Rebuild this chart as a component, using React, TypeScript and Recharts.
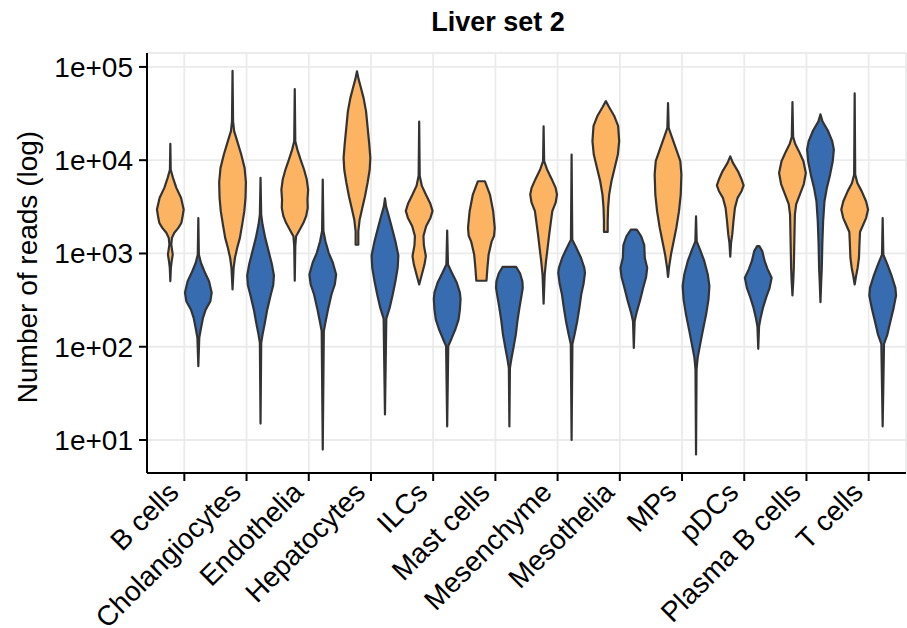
import { ScatterChart, Scatter, XAxis, YAxis, CartesianGrid } from 'recharts';

const CELL_TYPES = [
  'B cells', 'Cholangiocytes', 'Endothelia', 'Hepatocytes', 'ILCs', 'Mast cells',
  'Mesenchyme', 'Mesothelia', 'MPs', 'pDCs', 'Plasma B cells', 'T cells',
];

const Y_TICKS = [10, 100, 1000, 10000, 100000];
const Y_TICK_LABELS = ['1e+01', '1e+02', '1e+03', '1e+04', '1e+05'];

// violin profiles: [reads, relative width] from the top of each violin down
const ORANGE_VIOLINS: [number, number][][] = [
  [[15000, 0], [7900, 0.03], [6460, 0.2], [5050, 0.45], [3950, 0.8], [2960, 1], [2410, 0.9], [2120, 0.82], [1880, 0.6], [1670, 0.3], [1470, 0.12], [1250, 0.07], [973, 0.18], [826, 0.1], [700, 0.04], [505, 0]],
  [[91000, 0], [26100, 0.04], [20500, 0.12], [16000, 0.35], [11500, 0.65], [8270, 0.9], [5800, 1], [3940, 0.97], [2840, 0.88], [2040, 0.72], [1470, 0.55], [1150, 0.35], [900, 0.18], [700, 0.08], [411, 0]],
  [[58000, 0], [16000, 0.04], [12900, 0.2], [10000, 0.45], [7900, 0.7], [6200, 0.9], [4840, 1], [3790, 0.95], [3080, 0.97], [2510, 0.85], [2130, 0.65], [1810, 0.38], [1530, 0.1], [1200, 0.04], [510, 0]],
  [[89700, 0], [74000, 0.12], [59500, 0.3], [46000, 0.5], [33400, 0.68], [22200, 0.8], [14800, 0.92], [10600, 1], [7900, 0.95], [5800, 0.8], [4100, 0.6], [3000, 0.38], [2300, 0.2], [1730, 0.1], [1240, 0.1]],
  [[26000, 0], [6800, 0.04], [5300, 0.2], [4280, 0.5], [3460, 0.82], [2860, 1], [2420, 0.85], [1960, 0.52], [1540, 0.32], [1230, 0.35], [935, 0.5], [765, 0.4], [594, 0.2], [465, 0]],
  [[5950, 0.26], [5050, 0.45], [4280, 0.64], [2840, 0.88], [1880, 1], [1550, 0.95], [1350, 0.77], [973, 0.54], [700, 0.45], [510, 0.38]],
  [[23000, 0], [9750, 0.04], [8000, 0.25], [6300, 0.6], [5050, 0.9], [4280, 1], [3500, 0.9], [2840, 0.65], [2220, 0.55], [1600, 0.42], [1150, 0.3], [826, 0.18], [594, 0.08], [290, 0]],
  [[43000, 0], [37000, 0.25], [30000, 0.62], [23300, 0.92], [16000, 1], [11500, 0.9], [8270, 0.66], [5950, 0.42], [4280, 0.25], [3080, 0.17], [2220, 0.14], [1700, 0.14]],
  [[41000, 0], [22200, 0.05], [18300, 0.25], [13500, 0.58], [9750, 0.92], [7000, 1], [4280, 0.95], [2840, 0.82], [1880, 0.62], [1350, 0.42], [973, 0.22], [700, 0.07], [560, 0]],
  [[11000, 0], [9350, 0.2], [7600, 0.58], [6200, 0.85], [5380, 1], [4680, 0.85], [3950, 0.55], [3080, 0.35], [2220, 0.24], [1600, 0.15], [1300, 0.06], [925, 0]],
  [[42000, 0], [17800, 0.05], [15000, 0.2], [12500, 0.48], [9750, 0.82], [7300, 1], [5550, 0.85], [4280, 0.55], [3380, 0.28], [2610, 0.18], [1350, 0.14], [700, 0.1], [504, 0.06], [355, 0]],
  [[52000, 0], [7000, 0.04], [5700, 0.2], [4660, 0.52], [3630, 0.85], [2960, 1], [2410, 0.86], [2010, 0.62], [1700, 0.4], [1280, 0.36], [900, 0.32], [700, 0.22], [570, 0.1], [465, 0]],
];

const BLUE_VIOLINS: [number, number][][] = [
  [[2400, 0], [973, 0.04], [790, 0.2], [645, 0.45], [504, 0.8], [380, 1], [308, 0.9], [250, 0.55], [204, 0.35], [159, 0.2], [125, 0.07], [62, 0]],
  [[6460, 0], [2610, 0.05], [2040, 0.15], [1470, 0.35], [1060, 0.6], [765, 0.85], [580, 1], [460, 0.95], [355, 0.75], [250, 0.5], [180, 0.32], [135, 0.15], [110, 0.05], [15, 0]],
  [[6200, 0], [1740, 0.05], [1350, 0.2], [1010, 0.45], [800, 0.75], [594, 1], [465, 0.9], [363, 0.65], [261, 0.42], [188, 0.22], [147, 0.08], [7.9, 0]],
  [[3900, 0], [3200, 0.08], [2540, 0.28], [1880, 0.52], [1350, 0.78], [950, 1], [700, 0.95], [504, 0.78], [363, 0.58], [261, 0.35], [200, 0.1], [18.8, 0]],
  [[1760, 0], [760, 0.06], [620, 0.35], [485, 0.72], [380, 0.95], [325, 1], [250, 0.95], [195, 0.85], [155, 0.62], [122, 0.32], [102, 0.08], [14, 0]],
  [[720, 0.5], [610, 0.8], [504, 0.97], [428, 1], [350, 0.9], [261, 0.75], [188, 0.6], [135, 0.48], [97, 0.3], [73, 0.14], [59, 0.04], [14, 0]],
  [[11500, 0], [1400, 0.05], [1150, 0.35], [900, 0.7], [700, 0.95], [620, 1], [480, 0.9], [363, 0.72], [261, 0.58], [188, 0.42], [135, 0.22], [107, 0.06], [10, 0]],
  [[1800, 0.22], [1530, 0.55], [1230, 0.78], [900, 0.82], [700, 1], [560, 0.92], [428, 0.7], [308, 0.45], [230, 0.2], [188, 0.06], [97, 0]],
  [[2500, 0], [1350, 0.05], [1100, 0.3], [826, 0.62], [594, 0.88], [450, 1], [320, 0.93], [221, 0.75], [147, 0.5], [101, 0.28], [76, 0.12], [57, 0.04], [7, 0]],
  [[1200, 0.08], [1060, 0.3], [826, 0.48], [680, 0.7], [550, 1], [428, 0.85], [340, 0.6], [261, 0.35], [205, 0.18], [165, 0.06], [95, 0]],
  [[31000, 0], [26100, 0.15], [20800, 0.55], [16000, 0.88], [13000, 1], [9750, 0.92], [7000, 0.72], [5050, 0.48], [3630, 0.3], [2220, 0.2], [1270, 0.14], [700, 0.1], [470, 0.05], [300, 0]],
  [[2400, 0], [973, 0.05], [765, 0.35], [570, 0.68], [428, 0.95], [355, 1], [261, 0.82], [188, 0.58], [135, 0.35], [107, 0.1], [14, 0]],
];

const ORANGE = '#fdb462';
const BLUE = '#386cb0';
const OUTLINE = '#333333';
const DODGE = 0.225;
const HALF_WIDTH = 0.215;
const FONT = '"Liberation Sans", Arial, Helvetica, sans-serif';
const AXIS_FONT_SIZE = 28;

// closed outline: down the left side, back up the right side
function outline(profile: [number, number][], center: number) {
  const left = profile.map(([reads, w]) => ({ x: center - w * HALF_WIDTH, y: reads }));
  const right = [...profile].reverse().map(([reads, w]) => ({ x: center + w * HALF_WIDTH, y: reads }));
  return [...left, ...right];
}

const violins = CELL_TYPES.flatMap((name, i) => [
  { key: `${name}-orange`, fill: ORANGE, data: outline(ORANGE_VIOLINS[i], i - DODGE) },
  { key: `${name}-blue`, fill: BLUE, data: outline(BLUE_VIOLINS[i], i + DODGE) },
]);

function CellTick({ x, y, payload }: any) {
  const tx = x - 4;
  const ty = y + 11;
  return (
    <text x={tx} y={ty} transform={`rotate(-45, ${tx}, ${ty})`} textAnchor="end" fontSize={AXIS_FONT_SIZE} fill="#000">
      {CELL_TYPES[Math.round(payload.value)]}
    </text>
  );
}

function YTitle({ viewBox }: any) {
  const tx = viewBox.x + 37;
  const ty = viewBox.y + viewBox.height / 2 + 4;
  return (
    <text x={tx} y={ty} transform={`rotate(-90, ${tx}, ${ty})`} textAnchor="middle" fontSize={AXIS_FONT_SIZE} fill="#000">
      Number of reads (log)
    </text>
  );
}

function yLabel(v: number) {
  const i = Y_TICKS.findIndex((t) => Math.abs(Math.log10(t) - Math.log10(v)) < 0.01);
  return i >= 0 ? Y_TICK_LABELS[i] : '';
}

export default function App() {
  return (
    <div style={{ position: 'absolute', left: 0, top: 0, width: 907, height: 628, background: '#fff', fontFamily: FONT, overflow: 'hidden' }}>
      <div style={{ position: 'absolute', left: 398, top: 8.8, width: 200, textAlign: 'center', fontSize: 27, lineHeight: '27px', fontWeight: 'bold', color: '#000' }}>
        Liver set 2
      </div>
      <ScatterChart width={907} height={628} margin={{ top: 53, right: 1, bottom: 0, left: 0 }}>
        <CartesianGrid stroke="#ebebeb" strokeWidth={1.8} />
        <XAxis
          type="number"
          dataKey="x"
          domain={[-0.6, 11.6]}
          allowDataOverflow
          ticks={CELL_TYPES.map((_, i) => i)}
          interval={0}
          height={155}
          tickSize={8}
          tickMargin={2}
          axisLine={{ stroke: '#000', strokeWidth: 2 }}
          tickLine={{ stroke: '#000', strokeWidth: 2 }}
          tick={<CellTick />}
        />
        <YAxis
          type="number"
          dataKey="y"
          scale="log"
          domain={[4.43, 141000]}
          allowDataOverflow
          ticks={Y_TICKS}
          interval={0}
          width={147}
          tickSize={8}
          tickMargin={6}
          tickFormatter={yLabel}
          axisLine={{ stroke: '#000', strokeWidth: 2 }}
          tickLine={{ stroke: '#000', strokeWidth: 2 }}
          tick={{ fontSize: AXIS_FONT_SIZE, fill: '#000' }}
          label={{ content: <YTitle /> }}
        />
        {violins.map((v) => (
          <Scatter
            key={v.key}
            data={v.data}
            fill={v.fill}
            line={{ fill: v.fill, stroke: OUTLINE, strokeWidth: 2.2, strokeLinejoin: 'round' }}
            lineJointType="linearClosed"
            shape={() => <g />}
            isAnimationActive={false}
          />
        ))}
      </ScatterChart>
    </div>
  );
}
